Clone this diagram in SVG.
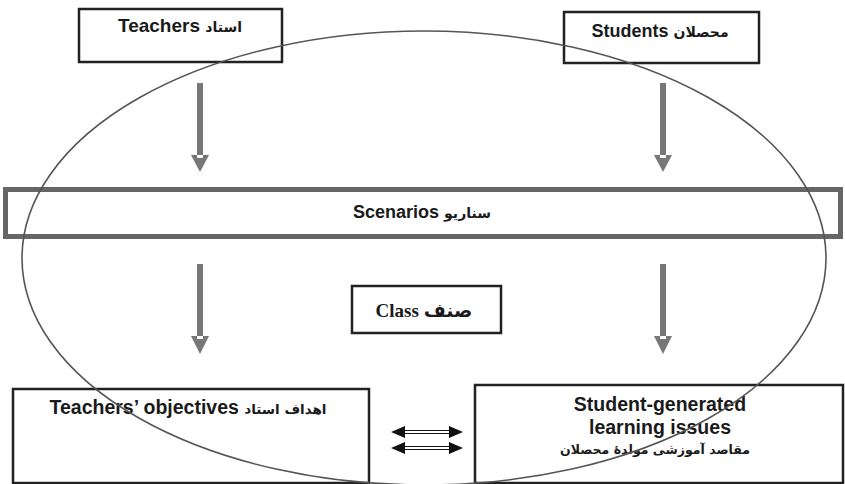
<svg xmlns="http://www.w3.org/2000/svg" width="845" height="484" viewBox="0 0 845 484">
<defs>
<style>
.box{fill:#fff;stroke:#222;stroke-width:2.5}
.t{font-family:"Liberation Sans","DejaVu Sans",Arial,sans-serif;font-weight:bold;font-size:18px;fill:#1a1a1a;text-anchor:middle}
.ar{font-family:"DejaVu Sans",sans-serif;font-size:14px;font-weight:bold}
.ts{font-family:"Liberation Serif","DejaVu Serif","DejaVu Sans",serif;font-weight:bold;font-size:19px;fill:#1a1a1a;text-anchor:middle}
.shaft{fill:#777}
.head{fill:#777}
.notch{fill:#fff}
.dshaft{fill:#fff;stroke:#111;stroke-width:1}
.dhead{fill:#111}
</style>
</defs>
<rect width="845" height="484" fill="#fff"/>
<g id="teachers"><rect class="box" x="79" y="9" width="203" height="53"/><text class="t" x="180" y="32" style="font-size:19px">Teachers <tspan class="ar">استاد</tspan></text></g>
<g id="students"><rect class="box" x="564" y="12" width="195" height="51"/><text class="t" x="660" y="37">Students <tspan class="ar">محصلان</tspan></text></g>
<g id="scenarios"><rect x="5.5" y="189.5" width="835" height="47" fill="#fff" stroke="#666" stroke-width="5"/><text class="t" x="422" y="218">Scenarios <tspan class="ar">سناریو</tspan></text></g>
<g id="class"><rect class="box" x="352" y="286" width="149" height="47" stroke-width="2"/><text class="ts" x="424" y="317">Class صنف</text></g>
<g id="teachers-objectives"><rect class="box" x="13" y="389" width="356" height="94"/><text class="t" x="188" y="414" style="font-size:19.5px">Teachers’ objectives <tspan class="ar" style="font-size:13.5px">اهداف استاد</tspan></text></g>
<g id="student-generated"><rect class="box" x="475" y="385" width="368" height="98"/><text class="t" x="660" y="411" style="font-size:19.5px">Student-generated</text><text class="t" x="660" y="434" style="font-size:19.5px">learning issues</text><text class="t ar" x="655" y="454" style="font-size:12.5px">مقاصد آموزشی مولدۀ محصلان</text></g>
<g id="class-ellipse"><ellipse cx="424" cy="258" rx="402" ry="227" fill="none" stroke="#555" stroke-width="1.6"/></g>
<g id="connectors">
<rect class="shaft" x="197" y="83" width="6" height="72"/><polygon class="head" points="191,155 209,155 200,172"/><rect class="notch" x="197" y="155" width="6" height="3"/>
<rect class="shaft" x="660" y="83" width="6" height="72"/><polygon class="head" points="654,155 672,155 663,172"/><rect class="notch" x="660" y="155" width="6" height="3"/>
<rect class="shaft" x="197" y="264" width="6" height="72"/><polygon class="head" points="191,336 209,336 200,354"/><rect class="notch" x="197" y="336" width="6" height="3"/>
<rect class="shaft" x="660" y="264" width="6" height="72"/><polygon class="head" points="654,336 672,336 663,354"/><rect class="notch" x="660" y="336" width="6" height="3"/>
<rect class="dshaft" x="403" y="430.5" width="48" height="3"/><polygon class="dhead" points="391,432 405,426 405,438"/><polygon class="dhead" points="463,432 449,426 449,438"/>
<rect class="dshaft" x="403" y="446.5" width="48" height="3"/><polygon class="dhead" points="391,448 405,442 405,454"/><polygon class="dhead" points="463,448 449,442 449,454"/>
</g>
</svg>
